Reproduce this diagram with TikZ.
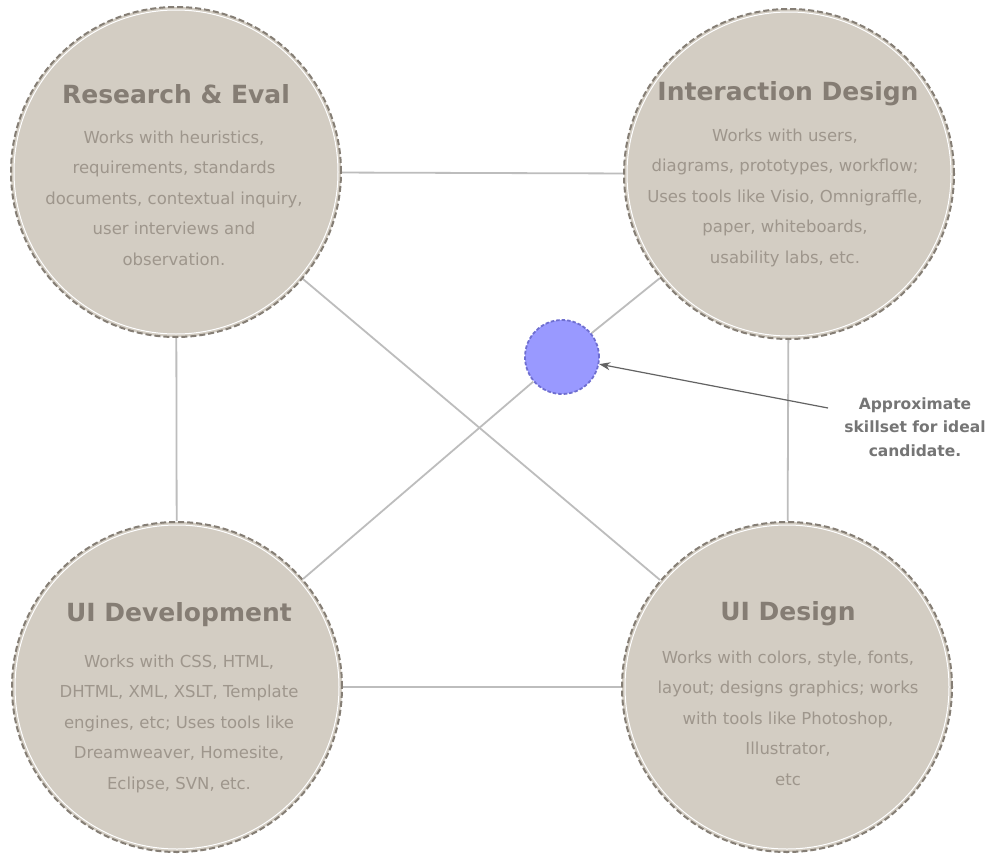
\documentclass[tikz,border=0pt]{standalone}
\usepackage{xcolor}
\usepackage{fontspec}
\setmainfont{DejaVu Sans}
\usetikzlibrary{positioning,backgrounds,arrows.meta}

\definecolor{disco}{HTML}{D3CDC3}
\definecolor{borde}{HTML}{857E75}
\definecolor{titulo}{HTML}{857D74}
\definecolor{texto}{HTML}{9E968C}
\definecolor{enlace}{HTML}{BDBDBD}
\definecolor{ideal}{HTML}{9999FF}
\definecolor{idealborde}{HTML}{6F6FD0}
\definecolor{nota}{HTML}{757575}

\tikzset{
  area/.style={circle,fill=disco,draw=borde,line width=2pt,
    dash pattern=on 6pt off 3pt,minimum size=330pt,inner sep=0pt},
  areatitulo/.style={anchor=base,text=titulo,inner sep=0pt,
    font=\fontsize{25}{28}\selectfont\bfseries},
  areatexto/.style={anchor=north,align=center,text=texto,inner sep=0pt,
    font=\fontsize{16.5}{30.5}\selectfont},
  enlaces/.style={draw=enlace,line width=1.8pt},
  perfil/.style={circle,fill=ideal,draw=idealborde,line width=1.8pt,
    dash pattern=on 3.5pt off 2pt,minimum size=74pt,inner sep=0pt},
  leyenda/.style={align=center,text=nota,inner sep=0pt,
    font=\fontsize{15.5}{23.5}\selectfont\bfseries},
  flecha/.style={draw=nota!85!black,line width=1.2pt,-{Stealth[length=11pt,width=8pt]}},
}

\begin{document}
\begin{tikzpicture}[x=1pt,y=-1pt]
        \useasboundingbox (0,0) rectangle (991,854);

        % Paso 1: Define los cuatro discos de competencias
        \node[area] (inv) at (176,172) {};
        \node[area] (int) at (789,174) {};
        \node[area] (des) at (177,687) {};
        \node[area] (dis) at (787,687) {};

        % Paso 2: Anillo blanco dentro de cada borde
        \foreach \n in {inv,int,des,dis}
          \draw[white,line width=1pt] (\n.center) circle (162pt);

        % Paso 3: Disco del perfil ideal
        \node[perfil] (ideal) at (562,357) {};

        % Paso 4: Titulos y textos de cada disco
        \node[areatitulo] (invt) at (176,103) {Research \& Eval};
        \node[areatexto] (invx) at (174,130.5) {Works with heuristics,\\requirements, standards\\documents, contextual inquiry,\\user interviews and\\observation.};

        \node[areatitulo] (intt) at (788,100) {Interaction Design};
        \node[areatexto] (intx) at (785,128.5) {Works with users,\\diagrams, prototypes, workflow;\\Uses tools like Visio, Omnigraffle,\\paper, whiteboards,\\usability labs, etc.};

        \node[areatitulo] (dest) at (179,621) {UI Development};
        \node[areatexto] (desx) at (179,654.5) {Works with CSS, HTML,\\DHTML, XML, XSLT, Template\\engines, etc; Uses tools like\\Dreamweaver, Homesite,\\Eclipse, SVN, etc.};

        \node[areatitulo] (dist) at (788,620) {UI Design};
        \node[areatexto] (disx) at (788,650.5) {Works with colors, style, fonts,\\layout; designs graphics; works\\with tools like Photoshop,\\Illustrator,\\etc};

        % Paso 5: Enlaces entre los discos, por debajo
        \begin{scope}[on background layer]
          \fill[white] (0,0) rectangle (991,854);
          \draw[enlaces] (inv) -- (int);
          \draw[enlaces] (inv) -- (des);
          \draw[enlaces] (int) -- (dis);
          \draw[enlaces] (des) -- (dis);
          \draw[enlaces] (inv) -- (dis);
          \draw[enlaces] (des) -- (ideal);
          \draw[enlaces] (ideal) -- (int);
        \end{scope}

        % Paso 6: Leyenda con flecha al perfil ideal
        \node[leyenda] (ley) at (915,427) {Approximate\\skillset for ideal\\candidate.};
        \coordinate (cola) at (828,408);
        \draw[flecha] (cola) -- (ideal);
\end{tikzpicture}
\end{document}
